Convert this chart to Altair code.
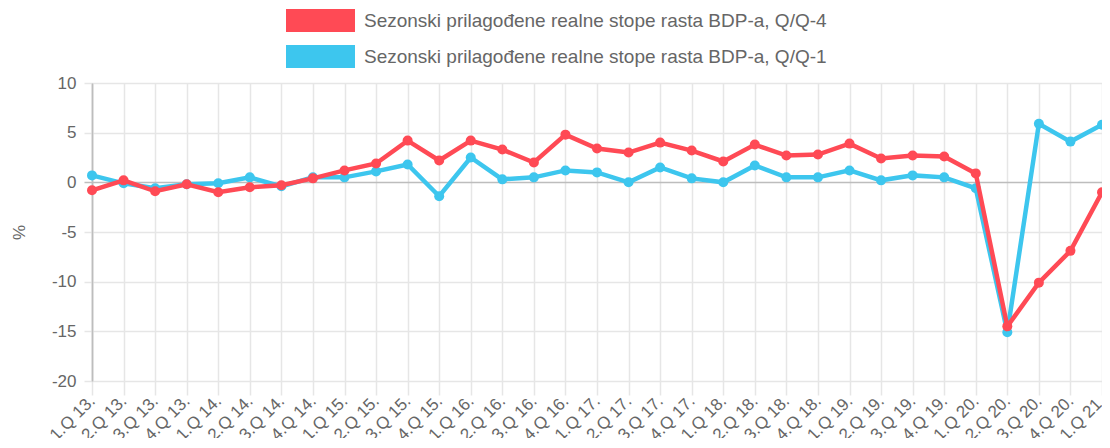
import altair as alt
import pandas as pd

quarters = [
    "1.Q 13.", "2.Q 13.", "3.Q 13.", "4.Q 13.",
    "1.Q 14.", "2.Q 14.", "3.Q 14.", "4.Q 14.",
    "1.Q 15.", "2.Q 15.", "3.Q 15.", "4.Q 15.",
    "1.Q 16.", "2.Q 16.", "3.Q 16.", "4.Q 16.",
    "1.Q 17.", "2.Q 17.", "3.Q 17.", "4.Q 17.",
    "1.Q 18.", "2.Q 18.", "3.Q 18.", "4.Q 18.",
    "1.Q 19.", "2.Q 19.", "3.Q 19.", "4.Q 19.",
    "1.Q 20.", "2.Q 20.", "3.Q 20.", "4.Q 20.",
    "1.Q 21.",
]
qq4 = [-0.8, 0.2, -0.9, -0.2, -1.0, -0.5, -0.3, 0.4,
       1.2, 1.9, 4.2, 2.2, 4.2, 3.3, 2.0, 4.8,
       3.4, 3.0, 4.0, 3.2, 2.1, 3.8, 2.7, 2.8,
       3.9, 2.4, 2.7, 2.6, 0.9, -14.5, -10.1, -6.9,
       -1.0]
qq1 = [0.7, -0.1, -0.6, -0.2, -0.1, 0.5, -0.4, 0.5,
       0.5, 1.1, 1.8, -1.4, 2.5, 0.3, 0.5, 1.2,
       1.0, 0.0, 1.5, 0.4, 0.0, 1.7, 0.5, 0.5,
       1.2, 0.2, 0.7, 0.5, -0.6, -15.1, 5.9, 4.1,
       5.8]
S4 = "Sezonski prilagođene realne stope rasta BDP-a, Q/Q-4"
S1 = "Sezonski prilagođene realne stope rasta BDP-a, Q/Q-1"
RED = "#ff4a55"
BLUE = "#3dc6ee"
FONT = "Liberation Sans"
GRID = "#e6e6e6"
ZERO = "#bdbdbd"

df = pd.DataFrame({
    "q": quarters + quarters,
    "v": qq4 + qq1,
    "s": [S4] * len(quarters) + [S1] * len(quarters),
})

x = alt.X("q:N", sort=quarters, title=None,
          scale=alt.Scale(type="point", padding=0),
          axis=alt.Axis(labelAngle=-45, labelAlign="right", labelBaseline="middle",
                        labelPadding=3, tickSize=14, labelOverlap=False, labelBound=False,
                        labelFontSize=17, labelColor="#666666", labelFont=FONT,
                        domain=False, grid=True, gridWidth=1.5, tickWidth=1.5,
                        gridColor={"condition": {"test": "datum.value === '1.Q 13.'", "value": ZERO}, "value": GRID},
                        tickColor=GRID))
y = alt.Y("v:Q", title="%",
          scale=alt.Scale(domain=[-20, 10], nice=False, zero=False),
          axis=alt.Axis(values=[-20, -15, -10, -5, 0, 5, 10], tickSize=8, labelPadding=8,
                        labelExpr="toString(datum.value)",
                        labelFontSize=17, labelColor="#666666", labelFont=FONT,
                        titleFont=FONT, titleFontSize=17, titleColor="#666666",
                        titleFontWeight="normal", titleAngle=-90, titleX=-73, titleY=149,
                        titleAlign="center", titleBaseline="middle",
                        domain=True, domainColor=ZERO, domainWidth=1.5,
                        grid=True, gridWidth=1.5, tickWidth=1.5,
                        gridColor={"condition": {"test": "datum.value === 0", "value": ZERO}, "value": GRID},
                        tickColor={"condition": {"test": "datum.value === 0", "value": ZERO}, "value": GRID}))

legend = alt.Legend(title=None, orient="none", legendX=217, legendY=-74, direction="vertical",
                    symbolType="M-3,-1H3V1H-3Z", symbolSize=529, symbolStrokeWidth=0,
                    symbolOpacity=1, labelOffset=32, rowPadding=13, padding=0,
                    labelFontSize=19, labelColor="#666666", labelFont=FONT, labelLimit=800)
color = alt.Color("s:N", scale=alt.Scale(domain=[S4, S1], range=[RED, BLUE]), legend=legend)

base = alt.Chart(df).encode(x=x, y=y, color=color)


def layer_for(series):
    sub = base.transform_filter(alt.datum.s == series)
    pts = sub.mark_point(filled=True, size=100, opacity=1)
    line = sub.mark_line(strokeWidth=4.5)
    return pts + line


chart = alt.layer(layer_for(S1), layer_for(S4)).properties(
    width=1010, height=298,
    padding={"left": 84, "top": 75, "right": 0, "bottom": 57},
    autosize=alt.AutoSizeParams(type="none"),
    background="white",
).configure_view(stroke=None)

chart.save("out.html", embed_options={"renderer": "svg", "actions": False})
